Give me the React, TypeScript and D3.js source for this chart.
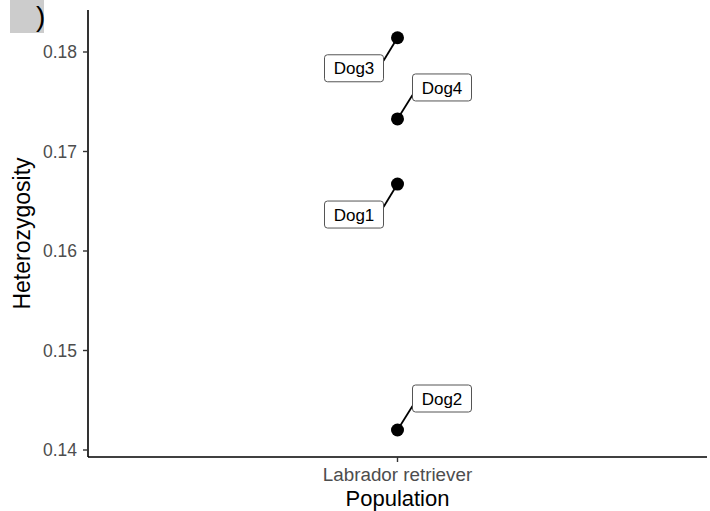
import React from "react";
import * as d3 from "d3";

const categories = ["Labrador retriever"];
const dogNames = ["Dog1", "Dog2", "Dog3", "Dog4"];
const dogValues = [0.16673, 0.14201, 0.18143, 0.17327];
const labelDx = [-1, 1, -1, 1];
const labelDy = [1, -1, 1, -1];
const yTicks = [0.14, 0.15, 0.16, 0.17, 0.18];

export default function App() {
  const W = 710, H = 511;
  const left = 88, right = 707, top = 10, bottom = 457;
  const x = d3.scaleBand().domain(categories).range([left, right]).paddingInner(0.6).paddingOuter(0.6);
  const y = d3.scaleLinear().domain([0.14, 0.18]).range([450, 52]);
  const cx = (x(categories[0]) as number) + x.bandwidth() / 2;
  const font = "Liberation Sans, Arial, sans-serif";
  const boxW = 59, boxH = 27;
  return (
    <svg width={W} height={H} style={{ position: "absolute", left: 0, top: 0 }} fontFamily={font}>
      <rect x={0} y={0} width={W} height={H} fill="white" />
      <rect x={10} y={0} width={34} height={33} fill="#cccccc" />
      <text x={36} y={26} fontSize={28} fill="black">)</text>
      <line x1={left} x2={left} y1={top} y2={bottom} stroke="black" strokeWidth={1.6} />
      <line x1={left} x2={right} y1={bottom} y2={bottom} stroke="black" strokeWidth={1.6} />
      {yTicks.map((t) => (
        <g key={t}>
          <line x1={left - 5} x2={left} y1={y(t)} y2={y(t)} stroke="#333" strokeWidth={1.4} />
          <text x={left - 11} y={y(t)} dy="0.36em" textAnchor="end" fontSize={17.5} fill="#4d4d4d">
            {t.toFixed(2)}
          </text>
        </g>
      ))}
      <line x1={cx} x2={cx} y1={bottom} y2={bottom + 5} stroke="#333" strokeWidth={1.4} />
      <text x={cx} y={481} textAnchor="middle" fontSize={18.8} fill="#4d4d4d">{categories[0]}</text>
      <text x={cx} y={506} textAnchor="middle" fontSize={22} fill="black">Population</text>
      <text transform={`translate(30,${(top + bottom) / 2}) rotate(-90)`} textAnchor="middle" fontSize={23} fill="black">
        Heterozygosity
      </text>
      {dogNames.map((n, i) => {
        const py = y(dogValues[i]);
        const bx = labelDx[i] < 0 ? cx - 14 - boxW : cx + 15;
        const by = labelDy[i] > 0 ? py + 17 : py - 45;
        const ex = labelDx[i] < 0 ? bx + boxW : bx;
        const ey = labelDy[i] > 0 ? by + 6 : by + boxH - 6;
        return (
          <g key={n}>
            <line x1={cx} y1={py} x2={ex} y2={ey} stroke="black" strokeWidth={1.8} />
            <circle cx={cx} cy={py} r={6.5} fill="black" />
            <rect x={bx} y={by} width={boxW} height={boxH} rx={3} fill="white" stroke="#555" strokeWidth={1} />
            <text x={bx + boxW / 2} y={by + boxH / 2} dy="0.36em" textAnchor="middle" fontSize={17} fill="black">{n}</text>
          </g>
        );
      })}
    </svg>
  );
}
